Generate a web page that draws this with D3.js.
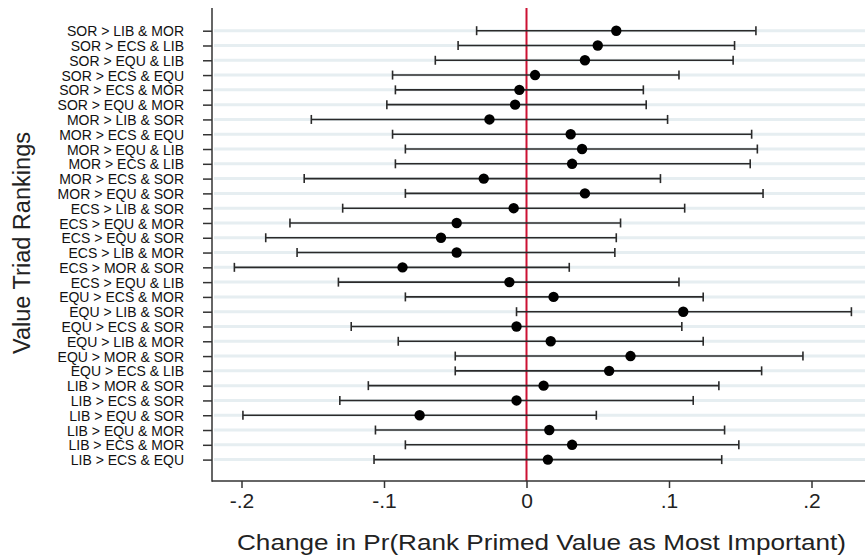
<!DOCTYPE html>
<html>
<head>
<meta charset="utf-8">
<script src="https://cdn.jsdelivr.net/npm/d3@7"></script>
<style>
  body { margin: 0; background: #fff; }
  svg { display: block; }
</style>
</head>
<body>
<div id="chart"></div>
<script>
// Data
const rankings = [
    "SOR > LIB & MOR", "SOR > ECS & LIB", "SOR > EQU & LIB", "SOR > ECS & EQU", "SOR > ECS & MOR",
    "SOR > EQU & MOR", "MOR > LIB & SOR", "MOR > ECS & EQU", "MOR > EQU & LIB", "MOR > ECS & LIB",
    "MOR > ECS & SOR", "MOR > EQU & SOR", "ECS > LIB & SOR", "ECS > EQU & MOR", "ECS > EQU & SOR",
    "ECS > LIB & MOR", "ECS > MOR & SOR", "ECS > EQU & LIB", "EQU > ECS & MOR", "EQU > LIB & SOR",
    "EQU > ECS & SOR", "EQU > LIB & MOR", "EQU > MOR & SOR", "EQU > ECS & LIB", "LIB > MOR & SOR",
    "LIB > ECS & SOR", "LIB > EQU & SOR", "LIB > EQU & MOR", "LIB > ECS & MOR", "LIB > ECS & EQU"
];
const estimate = [
    0.063, 0.050, 0.041, 0.006, -0.005, -0.008, -0.026, 0.031, 0.039, 0.032,
    -0.030, 0.041, -0.009, -0.049, -0.060, -0.049, -0.087, -0.012, 0.019, 0.110,
    -0.007, 0.017, 0.073, 0.058, 0.012, -0.007, -0.075, 0.016, 0.032, 0.015
];
const lower = [
    -0.035, -0.048, -0.064, -0.094, -0.092, -0.098, -0.151, -0.094, -0.085, -0.092,
    -0.156, -0.085, -0.129, -0.166, -0.183, -0.161, -0.205, -0.132, -0.085, -0.007,
    -0.123, -0.090, -0.050, -0.050, -0.111, -0.131, -0.199, -0.106, -0.085, -0.107
];
const upper = [
    0.161, 0.146, 0.145, 0.107, 0.082, 0.084, 0.099, 0.158, 0.162, 0.157,
    0.094, 0.166, 0.111, 0.066, 0.063, 0.062, 0.030, 0.107, 0.124, 0.228,
    0.109, 0.124, 0.194, 0.165, 0.135, 0.117, 0.049, 0.139, 0.149, 0.137
];
const xTicks = [-0.2, -0.1, 0, 0.1, 0.2];
const xTickLabels = ["-.2", "-.1", "0", ".1", ".2"];

const data = rankings.map((r, i) => ({ label: r, est: estimate[i], lo: lower[i], hi: upper[i] }));

const width = 865;
const height = 555;
const plotLeft = 212;
const plotTop = 8;
const plotBottom = 481;

const xScale = d3.scaleLinear().domain([-0.2, 0.2]).range([241.5, 811.5]);
const yScale = d3.scalePoint().domain(rankings).range([30.7, 459.6]);

const svg = d3.select("#chart").append("svg").attr("width", width).attr("height", height)
    .style("font-family", "'Liberation Sans', Arial, sans-serif");

// gridlines
svg.append("g").selectAll("line").data(rankings).join("line")
    .attr("x1", plotLeft + 2).attr("x2", width)
    .attr("y1", d => yScale(d)).attr("y2", d => yScale(d))
    .attr("stroke", "#e6eef1").attr("stroke-width", 3);

// zero line
svg.append("line")
    .attr("x1", xScale(0)).attr("x2", xScale(0))
    .attr("y1", plotTop).attr("y2", plotBottom)
    .attr("stroke", "#cc1133").attr("stroke-width", 2);

// y axis
const yAxis = svg.append("g").attr("transform", `translate(${plotLeft},0)`)
    .call(d3.axisLeft(yScale).tickSize(9).tickPadding(19));
yAxis.select(".domain").remove();
yAxis.selectAll(".tick line").attr("stroke", "#333").attr("stroke-width", 1.5);
yAxis.selectAll(".tick text").attr("fill", "#111").style("font-size", "14px").attr("dy", "0.36em");
svg.append("line").attr("x1", plotLeft).attr("x2", plotLeft).attr("y1", plotTop).attr("y2", plotBottom + 0.75)
    .attr("stroke", "#333").attr("stroke-width", 1.5);

// x axis
const xAxis = svg.append("g").attr("transform", `translate(0,${plotBottom})`)
    .call(d3.axisBottom(xScale).tickValues(xTicks).tickFormat((d, i) => xTickLabels[i]).tickSize(7).tickPadding(5));
xAxis.select(".domain").remove();
xAxis.selectAll(".tick line").attr("stroke", "#333").attr("stroke-width", 1.5);
xAxis.selectAll(".tick text").attr("fill", "#222").style("font-size", "21px");
svg.append("line").attr("x1", plotLeft).attr("x2", width).attr("y1", plotBottom).attr("y2", plotBottom)
    .attr("stroke", "#333").attr("stroke-width", 1.5);

// error bars
const bars = svg.append("g").selectAll("g").data(data).join("g")
    .attr("transform", d => `translate(0,${yScale(d.label)})`);

bars.append("line")
    .attr("x1", d => xScale(d.lo)).attr("x2", d => xScale(d.hi))
    .attr("y1", 0).attr("y2", 0)
    .attr("stroke", "#2a2a2a").attr("stroke-width", 1.6);

bars.selectAll("line.cap").data(d => [d.lo, d.hi]).join("line")
    .attr("class", "cap")
    .attr("x1", d => xScale(d)).attr("x2", d => xScale(d))
    .attr("y1", -4.5).attr("y2", 4.5)
    .attr("stroke", "#2a2a2a").attr("stroke-width", 1.6);

bars.append("circle")
    .attr("cx", d => xScale(d.est)).attr("cy", 0).attr("r", 5.2)
    .attr("fill", "#000");

// titles
svg.append("text")
    .text("Change in Pr(Rank Primed Value as Most Important)")
    .attr("x", 237).attr("y", 550)
    .attr("textLength", 609).attr("lengthAdjust", "spacingAndGlyphs")
    .attr("fill", "#222")
    .style("font-size", "22px");

svg.append("text")
    .text("Value Triad Rankings")
    .attr("transform", "translate(30,243) rotate(-90)")
    .attr("text-anchor", "middle")
    .attr("textLength", 222).attr("lengthAdjust", "spacingAndGlyphs")
    .attr("fill", "#222")
    .style("font-size", "23px");
</script>
</body>
</html>
